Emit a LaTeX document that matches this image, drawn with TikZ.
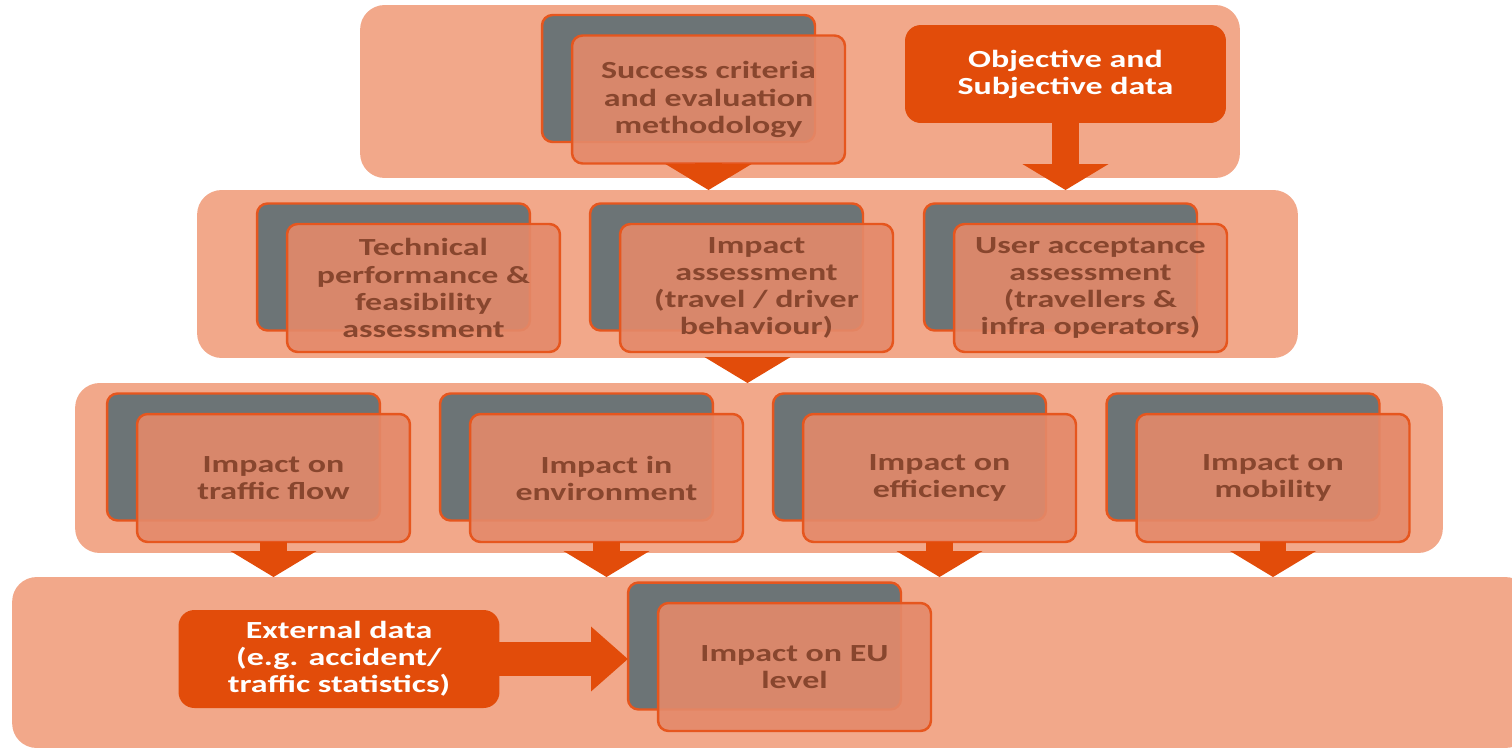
\documentclass[tikz,border=0pt]{standalone}
\usepackage{fontspec}
\setmainfont[FakeStretch=1.38]{Carlito}
\usetikzlibrary{arrows.meta,positioning}

\definecolor{bandfill}{RGB}{242,168,138}
\definecolor{cardfill}{RGB}{228,138,106}
\definecolor{cardline}{RGB}{230,86,30}
\definecolor{cardgray}{RGB}{108,116,118}
\definecolor{cardtext}{RGB}{136,70,46}
\definecolor{dataorange}{RGB}{226,76,10}

% card = grey sheet behind, salmon sheet in front
\newcommand{\evalcard}[4]{%
  \node[backcard] (#1-back) at (#2-30,#3-21) {};
  \node[frontcard] (#1) at (#2,#3) {#4};
}

\begin{document}
\begin{tikzpicture}[x=0.02cm, y=-0.02cm,
  band/.style={fill=bandfill, rounded corners=14pt, inner sep=0pt, outer sep=0pt},
  backcard/.style={fill=cardgray, draw=cardline, line width=1.4pt, rounded corners=6pt,
    minimum width=5.46cm, minimum height=2.54cm, inner sep=0pt, outer sep=0pt},
  frontcard/.style={fill=cardfill, fill opacity=0.9, text opacity=1, draw=cardline, line width=1.4pt,
    rounded corners=6pt, minimum width=5.46cm, minimum height=2.56cm, inner sep=0pt, outer sep=0pt,
    align=center, text=cardtext, font=\fontsize{14}{15.4}\selectfont\bfseries},
  databox/.style={fill=dataorange, rounded corners=9pt, minimum width=6.42cm, minimum height=1.96cm,
    inner sep=0pt, outer sep=0pt, align=center, text=white, font=\fontsize{14}{15.4}\selectfont\bfseries},
  blockarrow/.style={draw=dataorange, line width=15pt, -{Triangle[length=0.52cm, width=1.7cm]}}]

  \useasboundingbox (0,0) rectangle (1512,751);

  % the four bands
  \node[band, minimum width=17.6cm, minimum height=3.46cm] (band1) at (800,91.5) {};
  \node[band, minimum width=22.02cm, minimum height=3.36cm] (band2) at (747.5,274) {};
  \node[band, minimum width=27.36cm, minimum height=3.4cm] (band3) at (759,468) {};
  \node[band, minimum width=30.36cm, minimum height=3.42cm] (band4) at (771,662.5) {};

  % top band
  \evalcard{succ}{708.5}{99.5}{Success criteria\\and evaluation\\methodology}
  \node[databox] (objdata) at (1065.5,74) {Objective and\\Subjective data};

  % second band
  \evalcard{tech}{423.5}{288}{Technical\\performance \&\\feasibility\\assessment}
  \evalcard{impact}{756.5}{288}{Impact\\assessment\\(travel / driver\\behaviour)}
  \evalcard{user}{1090.5}{288}{User acceptance\\assessment\\(travellers \&\\infra operators)}

  % third band
  \evalcard{flow}{273.5}{478}{Impact on\\traffic flow}
  \evalcard{env}{606.5}{478}{Impact in\\environment}
  \evalcard{eff}{939.5}{478}{Impact on\\efficiency}
  \evalcard{mob}{1273}{478}{Impact on\\mobility}

  % bottom band
  \evalcard{eu}{794.5}{667}{Impact on EU\\level}
  \node[databox] (extdata) at (339,659) {External data\\(e.g. accident/\\traffic statistics)};

  % arrows
  \draw[blockarrow] (succ.south) -- (succ.south |- band2.north);
  \draw[blockarrow] (objdata.south) -- (objdata.south |- band2.north);
  \draw[blockarrow] (band2.south) -- (band2.south |- band3.north);
  \foreach \c in {flow,env,eff,mob}
    \draw[blockarrow] (\c.south) -- (\c.south |- band4.north);
  \draw[blockarrow, line width=19pt, -{Triangle[length=0.74cm, width=1.25cm]}]
    (extdata.east) -- (eu-back.west |- extdata.east);
\end{tikzpicture}
\end{document}
